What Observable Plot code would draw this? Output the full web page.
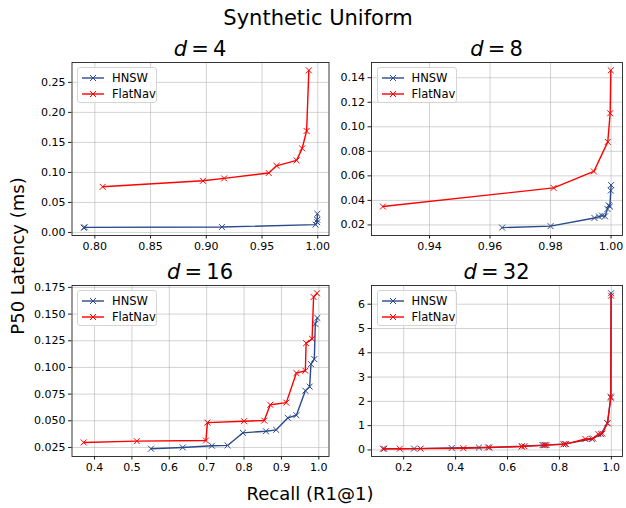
<!DOCTYPE html>
<html><head><meta charset="utf-8">
<script src="https://cdn.jsdelivr.net/npm/d3@7"></script>
<script src="https://cdn.jsdelivr.net/npm/@observablehq/plot@0.6"></script>
<style>
body{margin:0;background:#fff;}
#fig{position:relative;width:626px;height:508px;overflow:hidden;font-family:"DejaVu Sans",sans-serif;background:#fff;}
#fig svg.panel{position:absolute;left:0;top:0;max-width:none !important;background:transparent !important;}
.lbl{position:absolute;white-space:nowrap;color:#000;line-height:1;}
.legend{position:absolute;box-sizing:border-box;width:80px;height:36px;border:1px solid #d4d4d4;border-radius:3px;background:rgba(255,255,255,0.85);}
.legend .row{position:absolute;left:0;height:14px;width:100%;}
.legend .row svg{position:absolute;left:4px;top:0;}
.legend .row span{position:absolute;left:34px;top:1px;font-size:11.5px;line-height:12px;}
</style></head><body><div id="fig"></div>
<script>
// ---- data ----
const seriesNames = ["HNSW", "FlatNav"];
const panelTitles = ["4", "8", "16", "32"];

const d4HnswRecall   = [0.790, 0.791, 0.914, 0.998, 0.9995, 0.9995, 0.9996];
const d4HnswLatency  = [0.008, 0.0085, 0.009, 0.013, 0.017, 0.021, 0.031];
const d4FlatRecall   = [0.807, 0.897, 0.916, 0.956, 0.963, 0.981, 0.986, 0.990, 0.992];
const d4FlatLatency  = [0.076, 0.086, 0.090, 0.099, 0.111, 0.120, 0.140, 0.169, 0.270];

const d8HnswRecall   = [0.964, 0.980, 0.9945, 0.996, 0.997, 0.998, 0.9988, 0.9992, 0.9996, 0.9999, 1.0];
const d8HnswLatency  = [0.0178, 0.019, 0.0257, 0.0268, 0.0276, 0.027, 0.033, 0.036, 0.035, 0.048, 0.0525];
const d8FlatRecall   = [0.9246, 0.981, 0.9943, 0.9989, 0.9997, 0.9999];
const d8FlatLatency  = [0.0350, 0.0502, 0.0636, 0.0877, 0.111, 0.146];

const d16HnswRecall  = [0.551, 0.636, 0.714, 0.756, 0.797, 0.8585, 0.886, 0.917, 0.940, 0.964, 0.9755, 0.979, 0.988, 0.9906, 0.996];
const d16HnswLatency = [0.0238, 0.025, 0.0266, 0.0269, 0.0387, 0.0402, 0.0415, 0.0527, 0.0552, 0.0782, 0.082, 0.1031, 0.1078, 0.1408, 0.1464];
const d16FlatRecall  = [0.371, 0.513, 0.698, 0.702, 0.800, 0.854, 0.870, 0.913, 0.940, 0.964, 0.966, 0.982, 0.986, 0.995];
const d16FlatLatency = [0.0297, 0.0309, 0.0315, 0.0483, 0.0496, 0.0502, 0.065, 0.067, 0.0947, 0.0969, 0.1227, 0.1268, 0.166, 0.1695];

const d32HnswRecall  = [0.125, 0.24, 0.385, 0.49, 0.525, 0.655, 0.735, 0.745, 0.82, 0.925, 0.96, 0.985, 0.998, 0.999];
const d32HnswLatency = [0.05, 0.055, 0.08, 0.10, 0.105, 0.15, 0.20, 0.20, 0.25, 0.45, 0.65, 1.10, 2.20, 6.45];
const d32FlatRecall  = [0.12, 0.185, 0.265, 0.43, 0.53, 0.655, 0.665, 0.74, 0.75, 0.815, 0.825, 0.90, 0.93, 0.95, 0.965, 0.985, 0.998, 0.999];
const d32FlatLatency = [0.05, 0.05, 0.055, 0.07, 0.10, 0.14, 0.15, 0.19, 0.20, 0.23, 0.24, 0.45, 0.47, 0.65, 0.67, 1.10, 2.15, 6.35];

// tick values
const d4XTicks  = [0.80, 0.85, 0.90, 0.95, 1.00];
const d4YTicks  = [0.00, 0.05, 0.10, 0.15, 0.20, 0.25];
const d8XTicks  = [0.94, 0.96, 0.98, 1.00];
const d8YTicks  = [0.02, 0.04, 0.06, 0.08, 0.10, 0.12, 0.14];
const d16XTicks = [0.4, 0.5, 0.6, 0.7, 0.8, 0.9, 1.0];
const d16YTicks = [0.025, 0.050, 0.075, 0.100, 0.125, 0.150, 0.175];
const d32XTicks = [0.2, 0.4, 0.6, 0.8, 1.0];
const d32YTicks = [0, 1, 2, 3, 4, 5, 6];

const colors = {HNSW: "#2b4a8a", FlatNav: "#ff0000"};

// ---- layout ----
const W = 626, H = 508;
const panels = [
  {t: panelTitles[0], hr: d4HnswRecall, hl: d4HnswLatency, fr: d4FlatRecall, fl: d4FlatLatency, xt: d4XTicks, yt: d4YTicks, xf: ".2f", yf: ".2f", L: 71.5, R: 328.5, T: 62, B: 235},
  {t: panelTitles[1], hr: d8HnswRecall, hl: d8HnswLatency, fr: d8FlatRecall, fl: d8FlatLatency, xt: d8XTicks, yt: d8YTicks, xf: ".2f", yf: ".2f", L: 371, R: 622, T: 62, B: 235},
  {t: panelTitles[2], hr: d16HnswRecall, hl: d16HnswLatency, fr: d16FlatRecall, fl: d16FlatLatency, xt: d16XTicks, yt: d16YTicks, xf: ".1f", yf: ".3f", L: 71.5, R: 328.5, T: 285, B: 456},
  {t: panelTitles[3], hr: d32HnswRecall, hl: d32HnswLatency, fr: d32FlatRecall, fl: d32FlatLatency, xt: d32XTicks, yt: d32YTicks, xf: ".1f", yf: "d", L: 371, R: 622, T: 285, B: 456}
];

function padded(a, b) {
  const lo = Math.min(d3.min(a), d3.min(b)), hi = Math.max(d3.max(a), d3.max(b));
  const m = (hi - lo) * 0.05;
  return [lo - m, hi + m];
}

const fig = document.getElementById("fig");

function addLabel(html, x, y, size, extra) {
  const d = document.createElement("div");
  d.className = "lbl";
  d.innerHTML = html;
  d.style.left = x + "px";
  d.style.top = y + "px";
  d.style.fontSize = size + "px";
  d.style.transform = "translate(-50%,-50%)" + (extra || "");
  fig.appendChild(d);
}

for (const p of panels) {
  const rows = [];
  p.hr.forEach((r, i) => rows.push({method: "HNSW", recall: r, latency: p.hl[i]}));
  p.fr.forEach((r, i) => rows.push({method: "FlatNav", recall: r, latency: p.fl[i]}));
  const hn = rows.filter(d => d.method === "HNSW");
  const fn = rows.filter(d => d.method === "FlatNav");
  const chart = Plot.plot({
    width: W, height: H,
    marginLeft: p.L, marginRight: W - p.R, marginTop: p.T, marginBottom: H - p.B,
    style: {fontFamily: "DejaVu Sans, sans-serif", fontSize: "11px", background: "transparent", overflow: "visible"},
    x: {domain: padded(p.hr, p.fr)},
    y: {domain: padded(p.hl, p.fl)},
    marks: [
      Plot.gridX(p.xt, {stroke: "#b0b0b0", strokeOpacity: 0.7, strokeWidth: 0.8}),
      Plot.gridY(p.yt, {stroke: "#b0b0b0", strokeOpacity: 0.7, strokeWidth: 0.8}),
      Plot.line(hn, {x: "recall", y: "latency", stroke: colors.HNSW, strokeWidth: 1.4}),
      Plot.dot(hn, {x: "recall", y: "latency", symbol: "times", r: 2.8, stroke: colors.HNSW, strokeWidth: 1}),
      Plot.line(fn, {x: "recall", y: "latency", stroke: colors.FlatNav, strokeWidth: 1.4}),
      Plot.dot(fn, {x: "recall", y: "latency", symbol: "times", r: 2.8, stroke: colors.FlatNav, strokeWidth: 1}),
      Plot.frame({stroke: "#222", strokeWidth: 0.9}),
      Plot.axisX(p.xt, {tickSize: 3.5, tickPadding: 3, tickFormat: d3.format(p.xf), label: null, stroke: "#222"}),
      Plot.axisY(p.yt, {tickSize: 3.5, tickPadding: 3, tickFormat: d3.format(p.yf), label: null, stroke: "#222"})
    ]
  });
  chart.classList.add("panel");
  fig.appendChild(chart);

  // subplot title
  addLabel(`<i>d</i>&#8201;=&#8201;${p.t}`, (p.L + p.R) / 2, p.T - 13, 21);

  // legend
  const lg = document.createElement("div");
  lg.className = "legend";
  lg.style.left = (p.L + 5.5) + "px";
  lg.style.top = (p.T + 5) + "px";
  seriesNames.forEach((name, i) => {
    const row = document.createElement("div");
    row.className = "row";
    row.style.top = (3 + i * 15.5) + "px";
    const c = colors[name];
    row.innerHTML = `<svg width="22" height="14"><line x1="0" x2="22" y1="7" y2="7" stroke="${c}" stroke-width="1.4"/><path d="M8,4L14,10M8,10L14,4" stroke="${c}" stroke-width="1"/></svg><span>${name}</span>`;
    lg.appendChild(row);
  });
  fig.appendChild(lg);
}

addLabel("Synthetic Uniform", 318, 18, 21);
addLabel("Recall (R1@1)", 310, 494, 18);
addLabel("P50 Latency (ms)", 18, 256, 18, " rotate(-90deg)");
</script>
</body></html>
